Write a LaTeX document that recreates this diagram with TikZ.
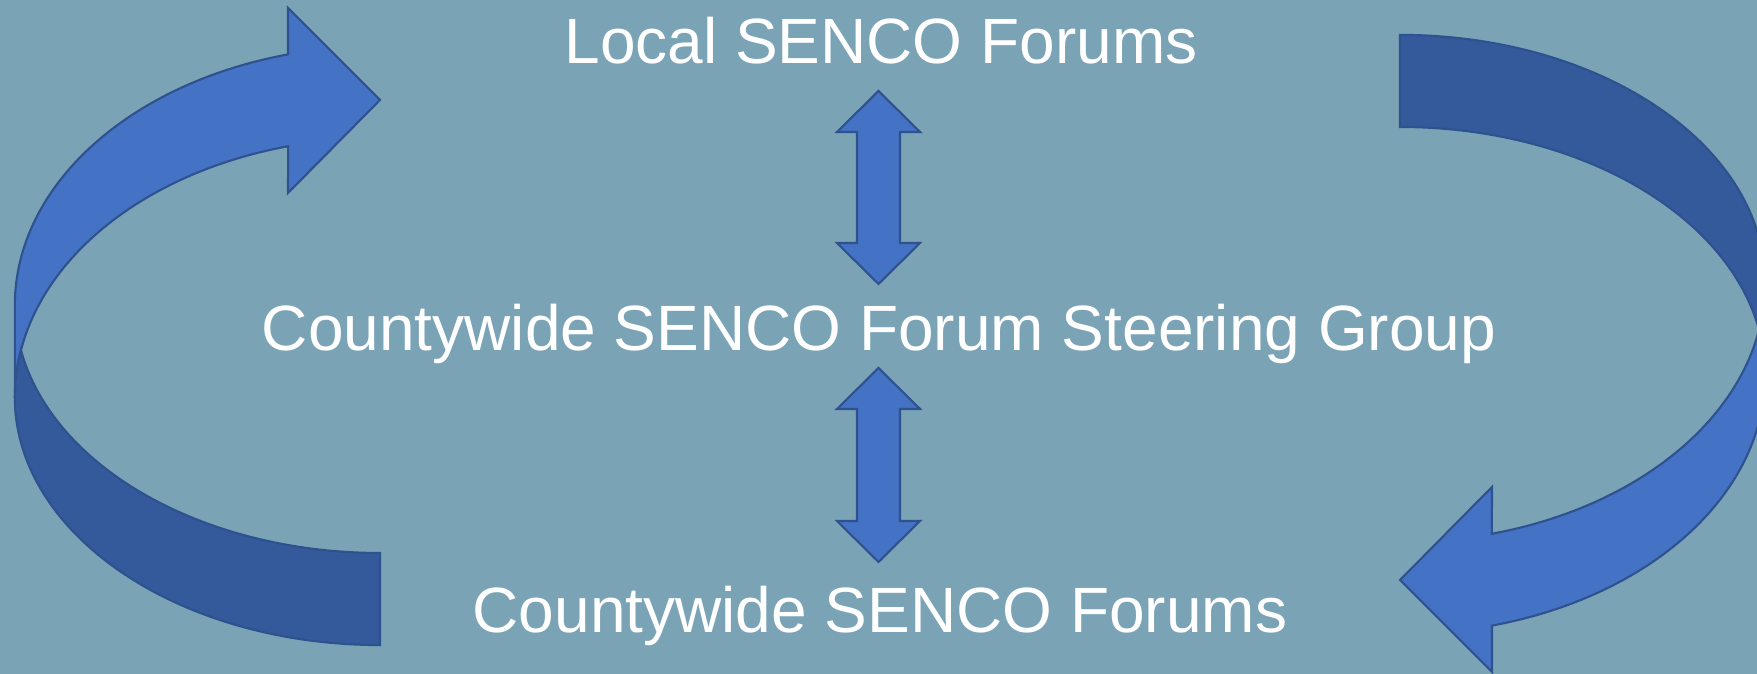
\documentclass[tikz,border=0pt]{standalone}
\usepackage{fontspec}
\setmainfont{Liberation Sans}
\definecolor{bgc}{HTML}{7AA3B6}
\definecolor{lightblue}{HTML}{4472C4}
\definecolor{darkblue}{HTML}{345A9C}
\definecolor{edgeblue}{HTML}{2F528F}
\newcommand\mycurvedarrow{%
  \path[lightband] (15,277)
    arc[start angle=180, end angle=104.6, x radius=3.65cm, y radius=2.59cm]
    -- (288,481) -- (380,574) -- (288,666) -- (288,619.6)
    arc[start angle=104.6, end angle=180, x radius=3.65cm, y radius=2.59cm]
    -- cycle;
  \path[darkband] (380,121)
    arc[start angle=270, end angle=190.46, x radius=3.65cm, y radius=2.48cm]
    arc[start angle=169.54, end angle=180, x radius=3.65cm, y radius=2.59cm]
    arc[start angle=180, end angle=270, x radius=3.65cm, y radius=2.48cm]
    -- cycle;
}
\newcommand\dblblock[2]{%
  \path[blockarrow] (878.5,#1) -- (920,{#1-41}) -- (900,{#1-41}) -- (900,{#2+41})
    -- (920,{#2+41}) -- (878.5,#2) -- (837,{#2+41}) -- (857,{#2+41})
    -- (857,{#1-41}) -- (837,{#1-41}) -- cycle;
}
\begin{document}
\begin{tikzpicture}[x=0.01cm,y=0.01cm,
  txt/.style={text=white, inner sep=0pt, anchor=base,
    font=\fontsize{18.2pt}{21pt}\selectfont},
  lightband/.style={fill=lightblue, draw=edgeblue, line width=0.6pt, line join=miter},
  darkband/.style={fill=darkblue, draw=edgeblue, line width=0.6pt, line join=miter},
  blockarrow/.style={fill=lightblue, draw=edgeblue, line width=0.6pt, line join=miter}]
\useasboundingbox (0,0) rectangle (1757,674);
\fill[bgc] (0,0) rectangle (1757,674);
\clip (0,0) rectangle (1757,674);
% left curved arrow
\begin{scope}
  \mycurvedarrow
\end{scope}
% right curved arrow (point reflection of the left one)
\begin{scope}[rotate around={180:(890,334)}]
  \mycurvedarrow
\end{scope}
% texts
\node[txt] (local) at (881,610) {Local SENCO Forums};
\node[txt] (steer) at (879,323) {Countywide SENCO Forum Steering Group};
\node[txt] (county) at (880,41) {Countywide SENCO Forums};
% double block arrows
\dblblock{583}{390}
\dblblock{306}{112}
\end{tikzpicture}
\end{document}
